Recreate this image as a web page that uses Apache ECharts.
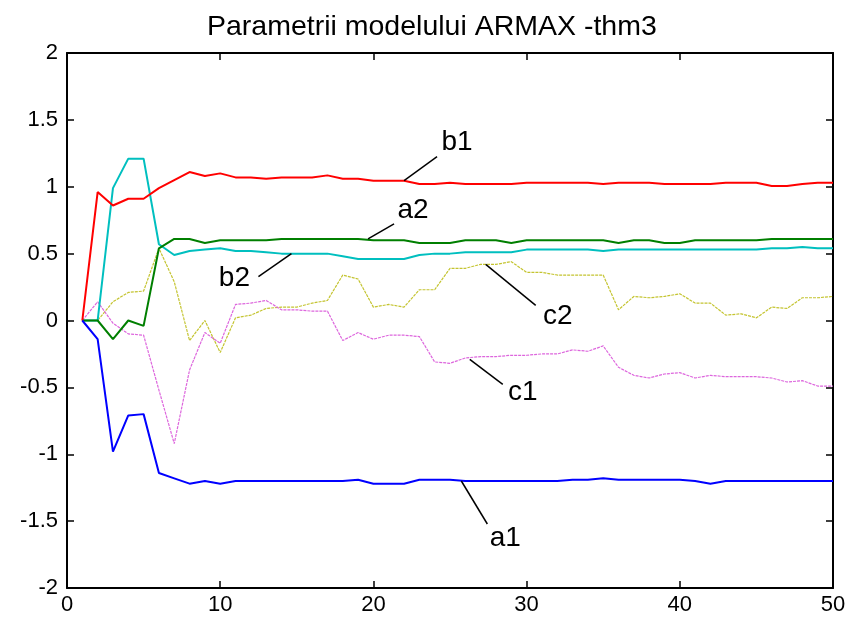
<!DOCTYPE html>
<html>
<head>
<meta charset="utf-8">
<title>Parametrii modelului ARMAX -thm3</title>
<script src="https://cdn.jsdelivr.net/npm/echarts@6/dist/echarts.min.js"></script>
<style>
  html, body { margin: 0; padding: 0; background: #fff; }
  #chart { width: 850px; height: 623px; }
</style>
</head>
<body>
<div id="chart"></div>
<script>
// iteration index
const steps = [1, 2, 3, 4, 5, 6, 7, 8, 9, 10,
  11, 12, 13, 14, 15, 16, 17, 18, 19, 20,
  21, 22, 23, 24, 25, 26, 27, 28, 29, 30,
  31, 32, 33, 34, 35, 36, 37, 38, 39, 40,
  41, 42, 43, 44, 45, 46, 47, 48, 49, 50]

const a1 = [0, -0.14, -0.98, -0.71, -0.70, -1.14, -1.18, -1.22, -1.20, -1.22,
  -1.20, -1.20, -1.20, -1.20, -1.20, -1.20, -1.20, -1.20, -1.19, -1.22,
  -1.22, -1.22, -1.19, -1.19, -1.19, -1.20, -1.20, -1.20, -1.20, -1.20,
  -1.20, -1.20, -1.19, -1.19, -1.18, -1.19, -1.19, -1.19, -1.19, -1.19,
  -1.20, -1.22, -1.20, -1.20, -1.20, -1.20, -1.20, -1.20, -1.20, -1.20]

const a2 = [0, 0, -0.14, 0.00, -0.04, 0.54, 0.61, 0.61, 0.58, 0.60,
  0.60, 0.60, 0.60, 0.61, 0.61, 0.61, 0.61, 0.61, 0.61, 0.60,
  0.60, 0.60, 0.58, 0.58, 0.58, 0.60, 0.60, 0.60, 0.58, 0.60,
  0.60, 0.60, 0.60, 0.60, 0.60, 0.58, 0.60, 0.60, 0.58, 0.58,
  0.60, 0.60, 0.60, 0.60, 0.60, 0.61, 0.61, 0.61, 0.61, 0.61]

const b1 = [0, 0.96, 0.86, 0.91, 0.91, 0.99, 1.05, 1.11, 1.08, 1.10,
  1.07, 1.07, 1.06, 1.07, 1.07, 1.07, 1.085, 1.06, 1.06, 1.045,
  1.045, 1.045, 1.02, 1.02, 1.03, 1.02, 1.02, 1.02, 1.02, 1.03,
  1.03, 1.03, 1.03, 1.03, 1.02, 1.03, 1.03, 1.03, 1.02, 1.02,
  1.02, 1.02, 1.03, 1.03, 1.03, 1.005, 1.005, 1.02, 1.03, 1.03]

const b2 = [0, 0, 0.99, 1.21, 1.21, 0.57, 0.49, 0.52, 0.53, 0.54,
  0.52, 0.52, 0.51, 0.50, 0.50, 0.50, 0.50, 0.48, 0.46, 0.46,
  0.46, 0.46, 0.49, 0.50, 0.50, 0.51, 0.51, 0.51, 0.51, 0.53,
  0.53, 0.53, 0.53, 0.53, 0.52, 0.53, 0.53, 0.53, 0.53, 0.53,
  0.53, 0.53, 0.53, 0.53, 0.53, 0.54, 0.54, 0.55, 0.54, 0.54]

const c1 = [0, 0.14, -0.02, -0.10, -0.11, -0.52, -0.92, -0.37, -0.09, -0.17,
  0.12, 0.13, 0.15, 0.08, 0.08, 0.07, 0.07, -0.15, -0.09, -0.14,
  -0.11, -0.11, -0.12, -0.31, -0.32, -0.28, -0.27, -0.27, -0.26, -0.26,
  -0.25, -0.25, -0.22, -0.23, -0.19, -0.35, -0.41, -0.43, -0.40, -0.39,
  -0.43, -0.41, -0.42, -0.42, -0.42, -0.43, -0.46, -0.45, -0.49, -0.49]

const c2 = [0, 0, 0.14, 0.21, 0.22, 0.54, 0.29, -0.15, 0.00, -0.24,
  0.02, 0.04, 0.09, 0.10, 0.10, 0.13, 0.15, 0.34, 0.31, 0.10,
  0.12, 0.10, 0.23, 0.23, 0.39, 0.39, 0.42, 0.42, 0.44, 0.36,
  0.36, 0.34, 0.34, 0.34, 0.34, 0.08, 0.18, 0.17, 0.18, 0.20,
  0.13, 0.13, 0.04, 0.05, 0.02, 0.10, 0.09, 0.17, 0.17, 0.18]

const xTicks = [0, 10, 20, 30, 40, 50]
const yTicks = [-2, -1.5, -1, -0.5, 0, 0.5, 1, 1.5, 2]

// label text, anchor on the curve (data units), line end and text offsets (px)
const notes = [
  { text: 'b1', at: [22, 1.045], end: [33, -24], pos: [53, -38] },
  { text: 'a2', at: [19.65, 0.61], end: [26, -15], pos: [45, -29] },
  { text: 'b2', at: [14.65, 0.50], end: [-33, 23], pos: [-57, 25] },
  { text: 'c2', at: [27.33, 0.42], end: [50, 41], pos: [72, 52] },
  { text: 'c1', at: [26.29, -0.29], end: [33, 25], pos: [53, 33] },
  { text: 'a1', at: [25.74, -1.20], end: [26, 43], pos: [44, 57] }
]

const FONT = '"Liberation Sans", Arial, Helvetica, sans-serif'
const pairs = arr => steps.map((s, i) => [s, arr[i]])

const solid = (name, data, color) => ({
  name, type: 'line', data: pairs(data), symbol: 'none',
  lineStyle: { color, width: 2 }, z: 3
})
const dotted = (name, data, color) => ({
  name, type: 'line', data: pairs(data), symbol: 'none',
  lineStyle: { color, width: 1.2, type: [3, 1] }, z: 2
})

const chart = echarts.init(document.getElementById('chart'), null, { renderer: 'canvas' })

const tickStyle = { show: true, inside: true, length: 7, lineStyle: { color: '#000', width: 1.5 } }
const lineStyle = { show: true, onZero: false, lineStyle: { color: '#000', width: 2 } }

chart.setOption({
  animation: false,
  backgroundColor: '#fff',
  textStyle: { fontFamily: FONT },
  title: {
    text: 'Parametrii modelului ARMAX -thm3',
    left: 202,
    top: 8,
    textStyle: { fontFamily: FONT, fontSize: 28.5, fontWeight: 'normal', color: '#000' }
  },
  grid: { left: 67, right: 17, top: 53, bottom: 35 },
  xAxis: [
    {
      type: 'value', min: xTicks[0], max: xTicks[xTicks.length - 1], interval: 10,
      axisLine: lineStyle, axisTick: tickStyle, splitLine: { show: false },
      axisLabel: { fontFamily: FONT, fontSize: 22, color: '#000', margin: 6 }
    },
    {
      type: 'value', position: 'top', min: xTicks[0], max: xTicks[xTicks.length - 1], interval: 10,
      axisLine: lineStyle, axisTick: tickStyle, splitLine: { show: false },
      axisLabel: { show: false }
    }
  ],
  yAxis: [
    {
      type: 'value', min: yTicks[0], max: yTicks[yTicks.length - 1], interval: 0.5,
      axisLine: lineStyle, axisTick: tickStyle, splitLine: { show: false },
      axisLabel: { fontFamily: FONT, fontSize: 22, color: '#000', margin: 9 }
    },
    {
      type: 'value', position: 'right', min: yTicks[0], max: yTicks[yTicks.length - 1], interval: 0.5,
      axisLine: lineStyle, axisTick: tickStyle, splitLine: { show: false },
      axisLabel: { show: false }
    }
  ],
  series: [
    dotted('c2', c2, '#c4c430'),
    dotted('c1', c1, '#dd66dd'),
    solid('b2', b2, '#00bfbf'),
    solid('a2', a2, '#007f00'),
    solid('b1', b1, '#ff0000'),
    solid('a1', a1, '#0000ff')
  ]
})

// annotation lines and labels, placed through the chart's own coordinate system
const graphics = []
notes.forEach(n => {
  const p = chart.convertToPixel({ gridIndex: 0 }, n.at)
  graphics.push({
    type: 'line', z: 10,
    shape: { x1: p[0], y1: p[1], x2: p[0] + n.end[0], y2: p[1] + n.end[1] },
    style: { stroke: '#000', lineWidth: 1.5 }
  })
  graphics.push({
    type: 'text', z: 10,
    x: p[0] + n.pos[0], y: p[1] + n.pos[1],
    style: {
      text: n.text, fill: '#000', font: '28px ' + FONT,
      align: 'center', verticalAlign: 'middle'
    }
  })
})
chart.setOption({ graphic: graphics })
</script>
</body>
</html>
